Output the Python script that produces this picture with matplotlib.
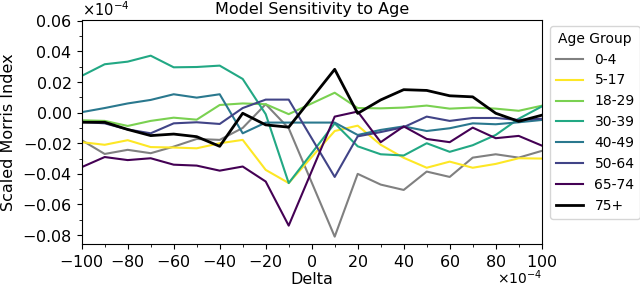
import matplotlib
matplotlib.use('Agg')
import matplotlib.pyplot as plt
import matplotlib.transforms as mtransforms
import numpy as np

# delta values (x 1e-4), no point at 0
deltas = [-100, -90, -80, -70, -60, -50, -40, -30, -20, -10,
          10, 20, 30, 40, 50, 60, 70, 80, 90, 100]

age_groups = ['0-4', '5-17', '18-29', '30-39', '40-49', '50-64', '65-74', '75+']

# scaled Morris index per age group (x 1e-4)
idx_0_4 = [-0.018, -0.027, -0.0243, -0.0265, -0.0222, -0.0172, -0.0178, -0.010, 0.0055, -0.0102,
           -0.081, -0.040, -0.047, -0.0505, -0.0385, -0.042, -0.0294, -0.0272, -0.0294, -0.025]
idx_5_17 = [-0.0193, -0.021, -0.018, -0.0225, -0.0228, -0.0233, -0.020, -0.0178, -0.0374, -0.046,
            -0.012, -0.0085, -0.021, -0.0295, -0.036, -0.032, -0.036, -0.0335, -0.0298, -0.030]
idx_18_29 = [-0.005, -0.0054, -0.0087, -0.0054, -0.0033, -0.0046, 0.005, 0.006, 0.0055, -0.001,
             0.013, 0.003, 0.0028, 0.0033, 0.0046, 0.0026, 0.0033, 0.0026, 0.0012, 0.0045]
idx_30_39 = [0.024, 0.0316, 0.0333, 0.0372, 0.0296, 0.0298, 0.0307, 0.022, -0.001, -0.046,
             -0.007, -0.022, -0.0272, -0.028, -0.020, -0.0256, -0.0213, -0.0146, -0.004, 0.004]
idx_40_49 = [0.0003, 0.003, 0.006, 0.0083, 0.012, 0.0098, 0.012, -0.0135, -0.0065, -0.0065,
             -0.0065, -0.0146, -0.0113, -0.009, -0.012, -0.0102, -0.007, -0.0076, -0.0063, -0.0048]
idx_50_64 = [-0.006, -0.007, -0.011, -0.0135, -0.007, -0.0063, -0.0074, 0.003, 0.0085, 0.0085,
             -0.042, -0.0155, -0.0127, -0.0095, -0.0026, -0.0054, -0.0035, -0.0035, -0.0048, -0.004]
idx_65_74 = [-0.0356, -0.029, -0.031, -0.0298, -0.034, -0.0346, -0.0379, -0.0352, -0.045, -0.0738,
             -0.0026, 0.0007, -0.0193, -0.009, -0.0172, -0.0193, -0.0098, -0.0167, -0.0152, -0.0215]
idx_75 = [-0.0063, -0.0063, -0.011, -0.015, -0.014, -0.0157, -0.022, -0.0004, -0.008, -0.0095,
          0.0283, -0.0005, 0.0083, 0.015, 0.0145, 0.011, 0.0103, -0.0004, -0.0057, -0.0017]

series = [idx_0_4, idx_5_17, idx_18_29, idx_30_39, idx_40_49, idx_50_64, idx_65_74, idx_75]
colors = ['gray'] + list(plt.cm.viridis(np.linspace(1, 0, 6))) + ['black']
widths = [1.5] * 7 + [2.0]

scale = 1e-4
x = np.array(deltas) * scale

fig = plt.figure(figsize=(6.4, 2.88), dpi=100)
ax = fig.add_axes([81.7 / 640, 1 - 244.3 / 288, 460 / 640, 224.3 / 288])

for name, vals, c, lw in zip(age_groups, series, colors, widths):
    ax.plot(x, np.array(vals) * scale, color=c, lw=lw, label=name)

ax.set_xlim(-100 * scale, 100 * scale)
ax.set_ylim(-0.086 * scale, 0.0605 * scale)
ax.set_xticks(np.arange(-100, 101, 20) * scale)
ax.set_xticks(np.arange(-100, 101, 10) * scale, minor=True)
ax.set_yticks(np.arange(-0.08, 0.061, 0.02) * scale)
ax.set_yticks(np.arange(-0.08, 0.061, 0.01) * scale, minor=True)
ax.ticklabel_format(style='sci', scilimits=(-4, -4), useMathText=True)
ax.tick_params(labelsize=11.5)
ax.yaxis.get_offset_text().set_fontsize(10.5)
x_off = ax.xaxis.get_offset_text()
x_off.set_fontsize(10)
# nudge the x multiplier up a little, it sits tight under the tick labels
x_off.set_transform(x_off.get_transform() +
                    mtransforms.ScaledTranslation(0, 4 / 72, fig.dpi_scale_trans))

ax.set_title('Model Sensitivity to Age', fontsize=11.5, pad=4)
ax.set_xlabel('Delta', fontsize=11.5)
ax.set_ylabel('Scaled Morris Index', fontsize=11.5)
ax.xaxis.set_label_coords(0.5, -0.122)
ax.yaxis.set_label_coords(-0.143, 0.5)

ax.legend(title='Age Group', loc='upper left', fontsize=10, title_fontsize=10,
          bbox_to_anchor=(550 / 640, 1 - 26 / 288), bbox_transform=fig.transFigure,
          borderaxespad=0, handlelength=2.0)

fig.savefig('out.png', dpi=100)
